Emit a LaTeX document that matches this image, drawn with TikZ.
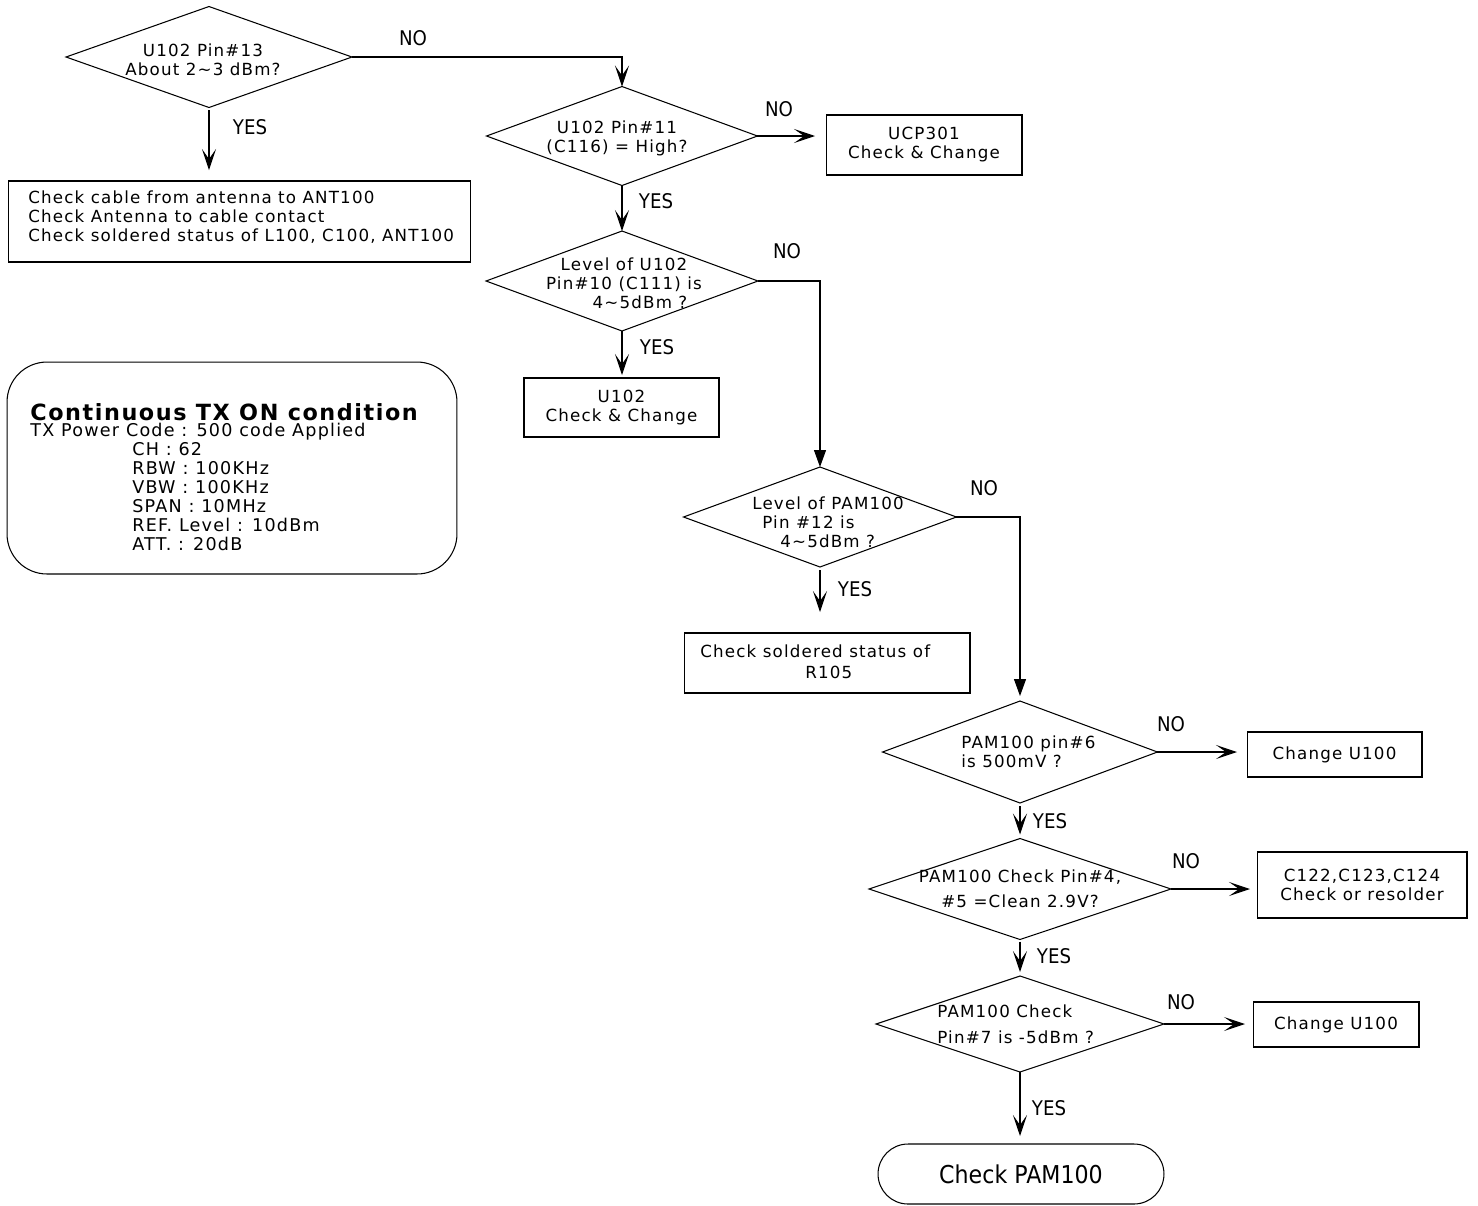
\documentclass[tikz,border=0pt]{standalone}
\usepackage{fontspec}
\setmainfont{DejaVu Sans}[LetterSpace=7]
\newfontfamily\condfont{DejaVu Sans}[FakeStretch=0.9]
\usepackage{tikz}
\usetikzlibrary{shapes.geometric, arrows.meta, calc}
\newcommand{\txtsize}{\fontsize{9.5}{10.8}\selectfont}
\tikzset{
  decision/.style={diamond, draw, line width=0.6pt, inner sep=0pt, outer sep=0pt},
  process/.style={rectangle, draw, line width=0.6pt, inner sep=0pt, outer sep=0pt, align=center, font=\txtsize},
  terminal/.style={rectangle, rounded corners=0.6cm, draw, line width=0.6pt, inner sep=0pt, outer sep=0pt, font=\condfont\fontsize{14}{16}\selectfont},
  txt/.style={inner sep=0pt, align=center, font=\txtsize},
  answer/.style={inner sep=0pt, font=\condfont\fontsize{11.5}{12}\selectfont},
  arrow/.style={line width=0.6pt, -{Stealth[length=0.42cm, width=0.28cm, inset=0.2cm]}},
  arrowfill/.style={line width=0.6pt, -{Triangle[length=0.34cm, width=0.24cm]}}
}

\begin{document}
\begin{tikzpicture}[x=0.02cm, y=-0.02cm]
    \useasboundingbox (0,0) rectangle (1478,1205);

    % 1. Decisiones
    \node[decision, minimum width=5.72cm, minimum height=2.02cm] (d1) at (209,57) {};
    \node[txt] (d1t) at (203,60) {U102 Pin\#13\\About 2\textasciitilde3 dBm?};

    \node[decision, minimum width=5.42cm, minimum height=1.98cm] (d2) at (622,136) {};
    \node[txt] (d2t) at (617,138) {U102 Pin\#11\\(C116) = High?};

    \node[decision, minimum width=5.44cm, minimum height=2.0cm] (d3) at (622,281) {};
    \node[txt] (d3t) at (624,283) {Level of U102\\Pin\#10 (C111) is\\\hspace*{0.64cm}4\textasciitilde5dBm ?};

    \node[decision, minimum width=5.46cm, minimum height=2.0cm] (d4) at (820,517) {};
    \node[txt, align=left, anchor=west] (d4t) at (752,522) {Level of PAM100\\\hspace*{0.2cm}Pin \#12 is\\\hspace*{0.56cm}4\textasciitilde5dBm ?};

    \node[decision, minimum width=5.5cm, minimum height=2.04cm] (d5) at (1020,752) {};
    \node[txt, align=left, anchor=west] (d5t) at (961,752) {PAM100 pin\#6\\is 500mV ?};

    \node[decision, minimum width=6.04cm, minimum height=2.02cm] (d6) at (1020,889) {};
    \node[txt] (d6t) at (1020,889) {PAM100 Check Pin\#4,\\[3.4pt]\#5 =Clean 2.9V?};

    \node[decision, minimum width=5.76cm, minimum height=1.92cm] (d7) at (1020,1024) {};
    \node[txt, align=left, anchor=west] (d7t) at (937,1024) {PAM100 Check\\[3.9pt]Pin\#7 is -5dBm ?};

    % 2. Cajas de accion
    \node[process, minimum width=9.26cm, minimum height=1.62cm] (b1) at (239.5,221.5) {};
    \node[txt, align=left, anchor=west] (b1t) at (28,217) {Check cable from antenna to ANT100\\Check Antenna to cable contact\\Check soldered status of L100, C100, ANT100};

    \node[process, minimum width=3.92cm, minimum height=1.2cm] (b2) at (924,145) {UCP301\\Check \& Change};
    \node[process, minimum width=3.9cm, minimum height=1.18cm] (b3) at (621.5,407.5) {U102\\Check \& Change};

    \node[process, minimum width=5.72cm, minimum height=1.2cm] (b4) at (827,663) {};
    \node[txt, align=left, anchor=west] (b4t) at (700,662) {Check soldered status of\\[1.2pt]\hspace*{2.1cm}R105};

    \node[process, minimum width=3.5cm, minimum height=0.9cm] (b5) at (1334.5,754.5) {Change U100};
    \node[process, minimum width=4.2cm, minimum height=1.32cm] (b6) at (1362,885) {C122,C123,C124\\Check or resolder};
    \node[process, minimum width=3.32cm, minimum height=0.9cm] (b7) at (1336,1024.5) {Change U100};

    \node[terminal, minimum width=5.72cm, minimum height=1.2cm] (t) at (1021,1174) {Check PAM100};

    % 3. Condiciones de medida
    \node[draw, line width=0.6pt, rounded corners=0.8cm, minimum width=9cm, minimum height=4.24cm] (cond) at (232,468) {};
    \node[inner sep=0pt, anchor=north west, font=\fontsize{12.7}{14}\selectfont\bfseries] (condtitle) at (30,403) {Continuous TX ON condition};
    \node[txt, align=left, anchor=north west, font=\fontsize{10}{10.8}\selectfont] (condtext) at (30,423) {TX Power Code : 500 code Applied\\
        \hspace*{2.04cm}CH : 62\\
        \hspace*{2.04cm}RBW : 100KHz\\
        \hspace*{2.04cm}VBW : 100KHz\\
        \hspace*{2.04cm}SPAN : 10MHz\\
        \hspace*{2.04cm}REF. Level : 10dBm\\
        \hspace*{2.04cm}ATT. : 20dB};

    % 4. Etiquetas YES / NO
    \node[answer] (no1) at (413,38) {NO};
    \node[answer] (yes1) at (250,127) {YES};
    \node[answer] (no2) at (779,109) {NO};
    \node[answer] (yes2) at (656,201) {YES};
    \node[answer] (no3) at (787,251) {NO};
    \node[answer] (yes3) at (657,347) {YES};
    \node[answer] (no4) at (984,488) {NO};
    \node[answer] (yes4) at (855,589) {YES};
    \node[answer] (no5) at (1171,724) {NO};
    \node[answer] (yes5) at (1050,821) {YES};
    \node[answer] (no6) at (1186,861) {NO};
    \node[answer] (yes6) at (1054,956) {YES};
    \node[answer] (no7) at (1181,1002) {NO};
    \node[answer] (yes7) at (1049,1108) {YES};

    % 5. Flechas NO
    \draw[arrow] (d1.east) -| (d2.north);
    \draw[arrow, shorten >=0.22cm] (d2.east) -- (d2.east -| b2.west);
    \draw[arrowfill] (d3.east) -| (d4.north);
    \draw[arrowfill, shorten >=0.1cm] (d4.east) -| (d5.north);
    \draw[arrow, shorten >=0.2cm] (d5.east) -- (d5.east -| b5.west);
    \draw[arrow, shorten >=0.14cm] (d6.east) -- (d6.east -| b6.west);
    \draw[arrow, shorten >=0.16cm] (d7.east) -- (d7.east -| b7.west);

    % 6. Flechas YES
    \draw[arrow, shorten <=0.06cm, shorten >=0.22cm] (d1.south) -- (d1.south |- b1.north);
    \draw[arrow] (d2.south) -- (d3.north);
    \draw[arrow, shorten >=0.06cm] (d3.south) -- (d3.south |- b3.north);
    \draw[arrow, shorten <=0.06cm, shorten >=0.42cm] (d4.south) -- (d4.south |- b4.north);
    \draw[arrow, shorten <=0.06cm, shorten >=0.08cm] (d5.south) -- (d6.north);
    \draw[arrow, shorten <=0.04cm, shorten >=0.08cm] (d6.south) -- (d7.north);
    \draw[arrow, shorten >=0.16cm] (d7.south) -- (d7.south |- t.north);

\end{tikzpicture}
\end{document}
